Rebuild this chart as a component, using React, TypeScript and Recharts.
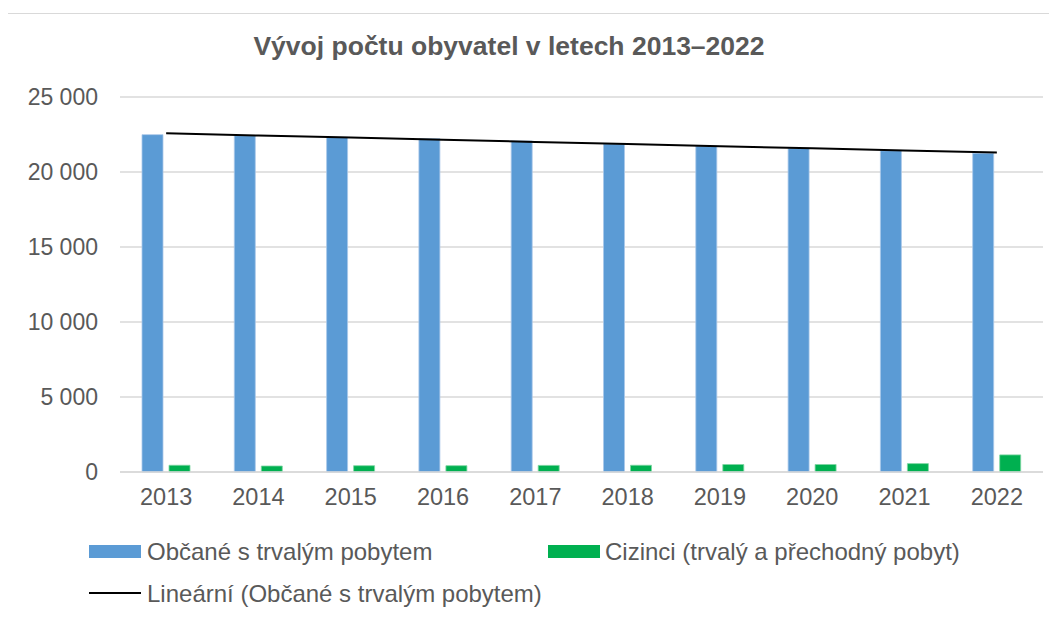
import { ComposedChart, Bar, Line, XAxis, YAxis, CartesianGrid } from "recharts";

// Vývoj počtu obyvatel 2013–2022
const years = ["2013", "2014", "2015", "2016", "2017", "2018", "2019", "2020", "2021", "2022"];
const obcane = [22490, 22420, 22310, 22220, 22070, 21870, 21730, 21580, 21420, 21250];
const cizinci = [450, 400, 420, 420, 440, 450, 500, 500, 560, 1140];
const yTicks = [0, 5000, 10000, 15000, 20000, 25000];

// lineární trend (nejmenší čtverce) z řady občanů, jako v Excelu
const n = obcane.length;
const meanX = (n - 1) / 2;
const meanY = obcane.reduce((a, b) => a + b, 0) / n;
const slope =
  obcane.reduce((s, y, i) => s + (i - meanX) * (y - meanY), 0) /
  obcane.reduce((s, _y, i) => s + (i - meanX) * (i - meanX), 0);
const trend = obcane.map((_y, i) => meanY + slope * (i - meanX));

const data = years.map((rok, i) => ({ rok, obcane: obcane[i], cizinci: cizinci[i], trend: trend[i] }));

const fmt = (v: number) => (v >= 1000 ? `${Math.floor(v / 1000)} ${String(v % 1000).padStart(3, "0")}` : String(v));

const TEXT = "#595959";
const FONT = "'Liberation Sans', Arial, sans-serif";

export default function App() {
  return (
    <div style={{ position: "relative", width: 1057, height: 618, overflow: "hidden", margin: -8, background: "#fff", fontFamily: FONT }}>
      <div style={{ position: "absolute", left: 4, top: 13, width: 1100, height: 700, border: "1px solid #d9d9d9" }} />
      <div style={{ position: "absolute", left: 0, top: 31, width: 1018, textAlign: "center", fontSize: 26.5, lineHeight: "30px", fontWeight: 700, color: TEXT }}>
        Vývoj počtu obyvatel v letech 2013–2022
      </div>
      <div style={{ position: "absolute", left: 0, top: 0 }}>
        <ComposedChart width={1057} height={618} data={data} margin={{ top: 97, right: 14, left: 10, bottom: 106 }} barSize={21} barGap={6}>
          <CartesianGrid vertical={false} stroke="#d9d9d9" strokeWidth={1.5} />
          <XAxis dataKey="rok" axisLine={{ stroke: "#d9d9d9", strokeWidth: 1.5 }} tickLine={false} height={40} tickMargin={10}
            tick={{ fontSize: 23.5, fill: TEXT, fontFamily: FONT }} />
          <YAxis domain={[0, 25000]} ticks={yTicks} tickFormatter={fmt} width={110} axisLine={false} tickLine={false} tickMargin={16}
            tick={{ fontSize: 23, fill: TEXT, fontFamily: FONT }} />
          <Bar dataKey="obcane" fill="#5b9bd5" stroke="#a9c8ea" strokeWidth={0.8} isAnimationActive={false} />
          <Bar dataKey="cizinci" fill="#00b050" stroke="#7fd6a3" strokeWidth={0.8} isAnimationActive={false} />
          <Line dataKey="trend" type="linear" stroke="#000" strokeWidth={2} dot={false} activeDot={false} isAnimationActive={false} />
        </ComposedChart>
      </div>
      <div style={{ position: "absolute", left: 89, top: 545, width: 52, height: 13, background: "#5b9bd5" }} />
      <div style={{ position: "absolute", left: 147, top: 538, fontSize: 24, color: TEXT, lineHeight: "28px", whiteSpace: "nowrap" }}>Občané s trvalým pobytem</div>
      <div style={{ position: "absolute", left: 548, top: 545, width: 52, height: 13, background: "#00b050" }} />
      <div style={{ position: "absolute", left: 605, top: 538, fontSize: 24, color: TEXT, lineHeight: "28px", whiteSpace: "nowrap" }}>Cizinci (trvalý a přechodný pobyt)</div>
      <div style={{ position: "absolute", left: 89, top: 592, width: 52, height: 2, background: "#000" }} />
      <div style={{ position: "absolute", left: 147, top: 580, fontSize: 24, color: TEXT, lineHeight: "28px", whiteSpace: "nowrap" }}>Lineární (Občané s trvalým pobytem)</div>
    </div>
  );
}
